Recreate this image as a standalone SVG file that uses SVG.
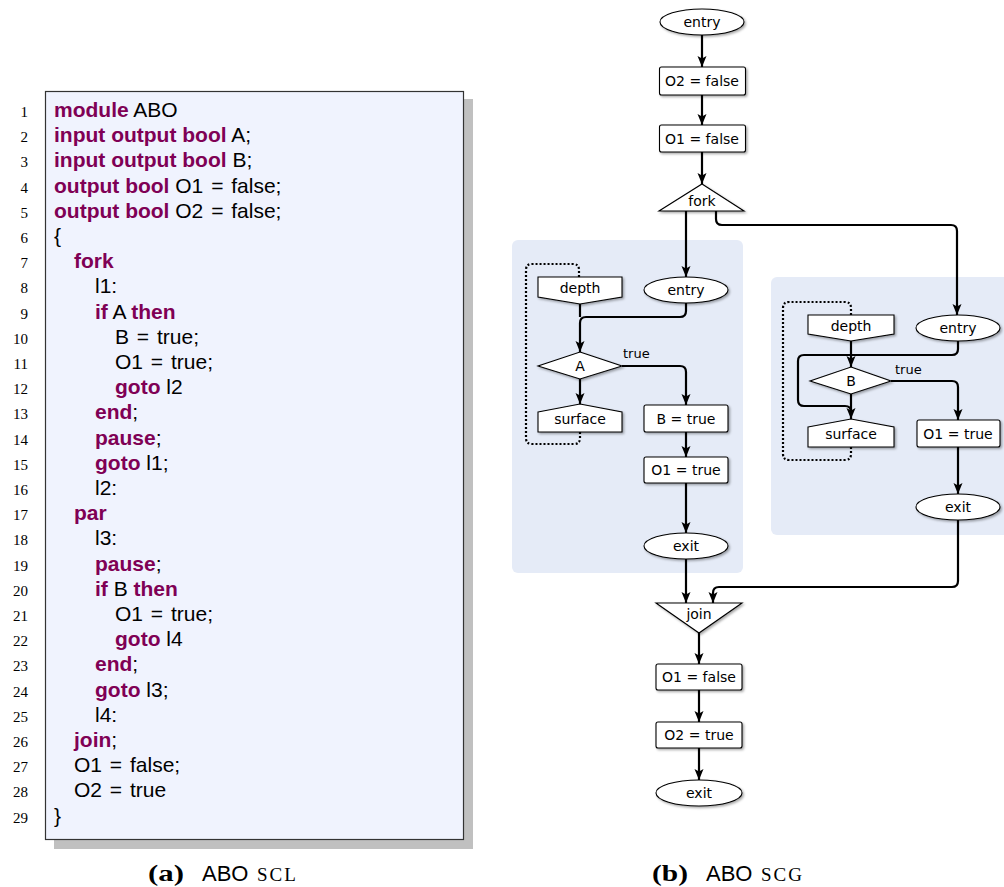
<svg xmlns="http://www.w3.org/2000/svg" width="1004" height="887" viewBox="0 0 1004 887">
<style>
.code{font-family:"Liberation Sans",Arial,sans-serif;font-size:21px;fill:#000}
.kw{font-weight:bold;fill:#7f0055}
.ln{font-family:"Liberation Serif","Times New Roman",serif;font-size:15px;text-anchor:end;fill:#000}
.nt{font-family:"DejaVu Sans",sans-serif;font-size:14px;text-anchor:middle;fill:#000}
.lbl{font-family:"DejaVu Sans",sans-serif;font-size:13px;fill:#000}
.node{fill:#fff;stroke:#000;stroke-width:1.1;filter:url(#sh)}
.edge{fill:none;stroke:#000;stroke-width:2.2;marker-end:url(#arr)}
.line{fill:none;stroke:#000;stroke-width:2.2}
.dot{fill:none;stroke:#000;stroke-width:2.2;stroke-dasharray:2 2}
.region{fill:#e5ebf7}
.cap{font-family:"Liberation Serif","Times New Roman",serif;font-size:24px;fill:#000}
.capsans{font-family:"Liberation Sans",Arial,sans-serif;font-size:22px}
.sc{font-size:19px;letter-spacing:2px}
</style>
<defs>
<marker id="arr" markerUnits="userSpaceOnUse" markerWidth="12" markerHeight="10" refX="11" refY="5" orient="auto">
<path d="M0,0.5 L11,5 L0,9.5 L2.5,5 z" fill="#000"/>
</marker>
<filter id="sh" x="-20%" y="-20%" width="150%" height="160%">
<feDropShadow dx="1.5" dy="1.5" stdDeviation="1" flood-color="#000" flood-opacity="0.35"/>
</filter>
</defs>
<rect width="1004" height="887" fill="#fff"/>

<!-- code listing -->
<g id="listing">
<rect x="54" y="99" width="419" height="750" fill="#c0c0c0"/>
<rect x="45.5" y="91.5" width="418" height="748" fill="#f0f3fe" stroke="#333" stroke-width="1.2"/>
<g class="ln">
<text x="28" y="117">1</text><text x="28" y="142.2">2</text><text x="28" y="167.4">3</text><text x="28" y="192.6">4</text><text x="28" y="217.8">5</text><text x="28" y="243">6</text><text x="28" y="268.2">7</text><text x="28" y="293.4">8</text><text x="28" y="318.6">9</text><text x="28" y="343.8">10</text><text x="28" y="369">11</text><text x="28" y="394.2">12</text><text x="28" y="419.4">13</text><text x="28" y="444.6">14</text><text x="28" y="469.8">15</text><text x="28" y="495">16</text><text x="28" y="520.2">17</text><text x="28" y="545.4">18</text><text x="28" y="570.6">19</text><text x="28" y="595.8">20</text><text x="28" y="621">21</text><text x="28" y="646.2">22</text><text x="28" y="671.4">23</text><text x="28" y="696.6">24</text><text x="28" y="721.8">25</text><text x="28" y="747">26</text><text x="28" y="772.2">27</text><text x="28" y="797.4">28</text><text x="28" y="822.6">29</text>
</g>
<g class="code">
<text x="54" y="117"><tspan class="kw">module</tspan> ABO</text>
<text x="54" y="142.2"><tspan class="kw">input output bool</tspan> A;</text>
<text x="54" y="167.4"><tspan class="kw">input output bool</tspan> B;</text>
<text x="54" y="192.6"><tspan class="kw">output bool</tspan> O1 <tspan dx="2">=</tspan> <tspan dx="2">false;</tspan></text>
<text x="54" y="217.8"><tspan class="kw">output bool</tspan> O2 <tspan dx="2">=</tspan> <tspan dx="2">false;</tspan></text>
<text x="54" y="243">{</text>
<text x="74" y="268.2" class="kw">fork</text>
<text x="95" y="293.4">l1:</text>
<text x="95" y="318.6"><tspan class="kw">if</tspan> A <tspan class="kw">then</tspan></text>
<text x="115" y="343.8">B <tspan dx="2">=</tspan> <tspan dx="2">true;</tspan></text>
<text x="115" y="369">O1 <tspan dx="2">=</tspan> <tspan dx="2">true;</tspan></text>
<text x="115" y="394.2"><tspan class="kw">goto</tspan> l2</text>
<text x="95" y="419.4"><tspan class="kw">end</tspan>;</text>
<text x="95" y="444.6"><tspan class="kw">pause</tspan>;</text>
<text x="95" y="469.8"><tspan class="kw">goto</tspan> l1;</text>
<text x="95" y="495">l2:</text>
<text x="74" y="520.2" class="kw">par</text>
<text x="95" y="545.4">l3:</text>
<text x="95" y="570.6"><tspan class="kw">pause</tspan>;</text>
<text x="95" y="595.8"><tspan class="kw">if</tspan> B <tspan class="kw">then</tspan></text>
<text x="115" y="621">O1 <tspan dx="2">=</tspan> <tspan dx="2">true;</tspan></text>
<text x="115" y="646.2"><tspan class="kw">goto</tspan> l4</text>
<text x="95" y="671.4"><tspan class="kw">end</tspan>;</text>
<text x="95" y="696.6"><tspan class="kw">goto</tspan> l3;</text>
<text x="95" y="721.8">l4:</text>
<text x="74" y="747"><tspan class="kw">join</tspan>;</text>
<text x="74" y="772.2">O1 <tspan dx="2">=</tspan> <tspan dx="2">false;</tspan></text>
<text x="74" y="797.4">O2 <tspan dx="2">=</tspan> <tspan dx="2">true</tspan></text>
<text x="54" y="822.6">}</text>
</g>
</g>

<!-- regions -->
<g id="thread1-region"><rect class="region" x="512" y="240" width="231" height="333" rx="6"/></g>
<g id="thread2-region"><rect class="region" x="771" y="277" width="245" height="258" rx="6"/></g>

<!-- connectors -->
<g id="connectors">
<path class="edge" d="M702,35 V67"/>
<path class="edge" d="M702,95 V125"/>
<path class="edge" d="M702,152 V184"/>
<path class="edge" d="M686,211 V277"/>
<path class="edge" d="M716,211 V219 Q716,225 722,225 H951 Q957,225 957,231 V315"/>
<path class="line" d="M580,304 V317"/>
<path class="edge" d="M686,303 V311 Q686,317 680,317 H586 Q580,317 580,323 V352"/>
<path class="edge" d="M580,379 V404"/>
<path class="edge" d="M622,366 H680 Q686,366 686,372 V405"/>
<path class="dot" d="M580,432 V438 Q580,444 574,444 H532 Q526,444 526,438 V270 Q526,264 532,264 H573 Q579,264 579,270 V277"/>
<path class="edge" d="M686,432 V457"/>
<path class="edge" d="M686,483 V533"/>
<path class="edge" d="M686,559 V603"/>
<path class="edge" d="M851,341 V367"/>
<path class="line" d="M958,341 V349 Q958,355 952,355 H804 Q798,355 798,361 V400 Q798,406 804,406 H845 Q851,406 851,412"/>
<path class="edge" d="M851,394 V419"/>
<path class="edge" d="M891,381 H952 Q958,381 958,387 V420"/>
<path class="dot" d="M851,447 V454 Q851,460 845,460 H789 Q783,460 783,454 V308 Q783,302 789,302 H845 Q851,302 851,308 V315"/>
<path class="edge" d="M958,447 V494"/>
<path class="edge" d="M958,520 V581 Q958,587 952,587 H719 Q713,587 713,593 V603"/>
<path class="edge" d="M699,633 V664"/>
<path class="edge" d="M699,690 V722"/>
<path class="edge" d="M699,748 V780"/>
<text class="lbl" x="623" y="358">true</text>
<text class="lbl" x="895" y="374">true</text>
</g>

<!-- main nodes -->
<g id="entry"><ellipse class="node" cx="702" cy="22" rx="42" ry="13"/><text class="nt" x="702" y="27">entry</text></g>
<g id="o2false"><rect class="node" x="659.5" y="67" width="86" height="28" rx="2"/><text class="nt" x="702" y="86">O2 = false</text></g>
<g id="o1false"><rect class="node" x="659.5" y="125" width="86" height="27" rx="2"/><text class="nt" x="702" y="143.5">O1 = false</text></g>
<g id="fork"><path class="node" d="M702,184 L744,211 L659,211 Z"/><text class="nt" x="702" y="206">fork</text></g>

<!-- thread 1 -->
<g id="t1-entry"><ellipse class="node" cx="686" cy="290" rx="42" ry="13"/><text class="nt" x="686" y="295">entry</text></g>
<g id="t1-depth"><path class="node" d="M538,277 H622 V297 L580,304 L538,297 Z"/><text class="nt" x="580" y="293">depth</text></g>
<g id="t1-condA"><path class="node" d="M580,352 L622,366 L580,379 L538,366 Z"/><text class="nt" x="580" y="371">A</text></g>
<g id="t1-surface"><path class="node" d="M538,412 L580,404 L622,412 V432 H538 Z"/><text class="nt" x="580" y="424">surface</text></g>
<g id="t1-btrue"><rect class="node" x="644" y="405" width="84" height="27" rx="2"/><text class="nt" x="686" y="423.5">B = true</text></g>
<g id="t1-o1true"><rect class="node" x="644" y="457" width="84" height="26" rx="2"/><text class="nt" x="686" y="475">O1 = true</text></g>
<g id="t1-exit"><ellipse class="node" cx="686" cy="546" rx="42" ry="13"/><text class="nt" x="686" y="551">exit</text></g>

<!-- thread 2 -->
<g id="t2-entry"><ellipse class="node" cx="958" cy="328" rx="42" ry="13"/><text class="nt" x="958" y="333">entry</text></g>
<g id="t2-depth"><path class="node" d="M808,315 H894 V334 L851,341 L808,334 Z"/><text class="nt" x="851" y="331">depth</text></g>
<g id="t2-condB"><path class="node" d="M851,367 L891,381 L851,394 L810,381 Z"/><text class="nt" x="851" y="386">B</text></g>
<g id="t2-surface"><path class="node" d="M808,427 L851,419 L894,427 V447 H808 Z"/><text class="nt" x="851" y="439">surface</text></g>
<g id="t2-o1true"><rect class="node" x="917" y="420" width="83" height="27" rx="2"/><text class="nt" x="958" y="438.5">O1 = true</text></g>
<g id="t2-exit"><ellipse class="node" cx="958" cy="507" rx="42" ry="13"/><text class="nt" x="958" y="512">exit</text></g>

<!-- join and tail -->
<g id="join"><path class="node" d="M656,603 H742 L699,633 Z"/><text class="nt" x="699" y="619">join</text></g>
<g id="o1false2"><rect class="node" x="656" y="664" width="86" height="26" rx="2"/><text class="nt" x="699" y="682">O1 = false</text></g>
<g id="o2true"><rect class="node" x="656" y="722" width="86" height="26" rx="2"/><text class="nt" x="699" y="740">O2 = true</text></g>
<g id="exit"><ellipse class="node" cx="699" cy="793" rx="43" ry="13"/><text class="nt" x="699" y="798">exit</text></g>

<!-- captions -->
<g id="captions">
<text class="cap" x="148" y="881" font-weight="bold" textLength="36" lengthAdjust="spacingAndGlyphs">(a)</text>
<text class="cap capsans" x="202" y="881">ABO</text>
<text class="cap sc" x="257" y="881">SCL</text>
<text class="cap" x="652" y="881" font-weight="bold" textLength="36" lengthAdjust="spacingAndGlyphs">(b)</text>
<text class="cap capsans" x="706" y="881">ABO</text>
<text class="cap sc" x="761" y="881">SCG</text>
</g>
</svg>
